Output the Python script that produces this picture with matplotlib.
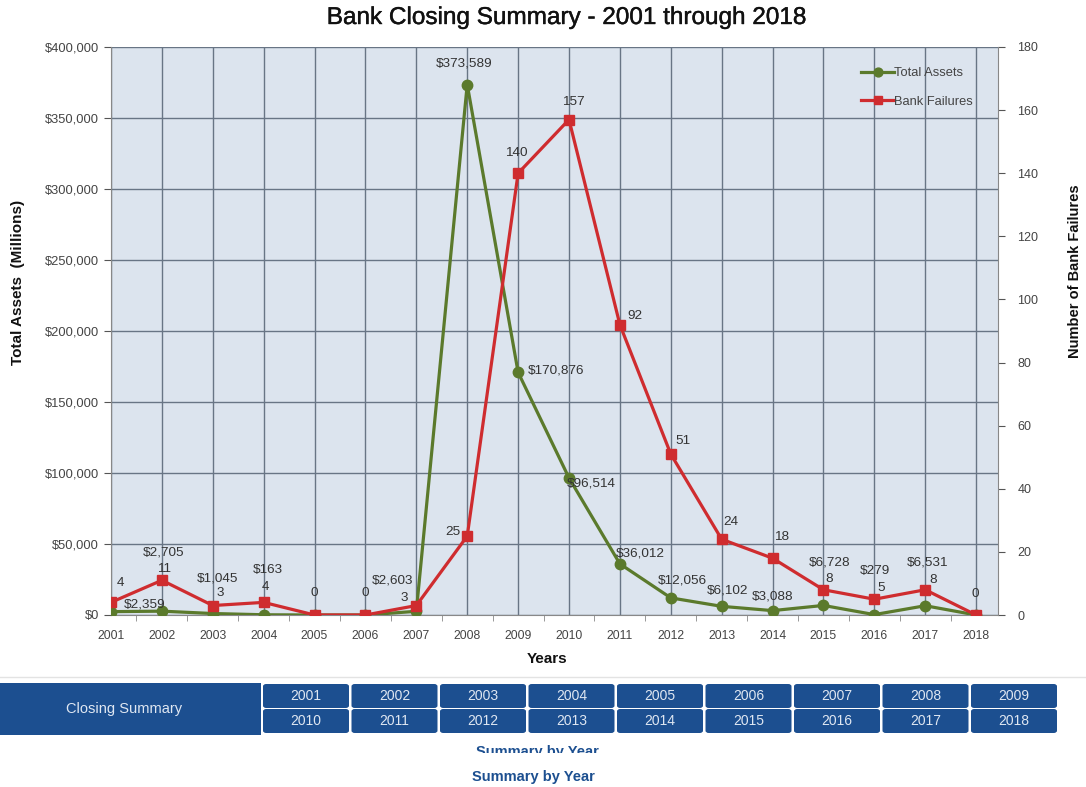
import matplotlib
matplotlib.use("Agg")
import matplotlib.pyplot as plt
import matplotlib.patheffects as pe
from matplotlib.patches import Rectangle, FancyBboxPatch
from matplotlib.transforms import Bbox, TransformedBbox
from matplotlib.ticker import FuncFormatter, MultipleLocator

plt.rcParams["font.family"] = ["Liberation Sans", "DejaVu Sans"]

years = list(range(2001, 2019))
total_assets = [2359, 2705, 1045, 163, 0, 0, 2603, 373589, 170876, 96514,
                36012, 12056, 6102, 3088, 6728, 279, 6531, 0]
bank_failures = [4, 11, 3, 4, 0, 0, 3, 25, 140, 157, 92, 51, 24, 18, 8, 5, 8, 0]
nav_years_top = [str(y) for y in range(2001, 2010)]
nav_years_bottom = [str(y) for y in range(2010, 2019)]

W, H = 1086, 787
GREEN = "#5b7a2c"
RED = "#cf2c2f"
GRID = "#687585"
LABEL = "#333333"
NAVY = "#1c4f90"

fig = plt.figure(figsize=(W / 100, H / 100), dpi=100)
fig.patch.set_facecolor("white")


def px(x, y):
    # pixel coords (origin top-left) -> figure fraction
    return x / W, 1 - y / H


left, right, top, bottom = 111, 998, 47, 615
ax = fig.add_axes([left / W, 1 - bottom / H, (right - left) / W, (bottom - top) / H])
ax.set_facecolor("#dce4ee")
ax2 = ax.twinx()

ax.set_xlim(2001, 2018.43)
ax.set_ylim(0, 400000)
ax2.set_ylim(0, 180)

ax.set_xticks(years)
ax.set_xticklabels([str(y) for y in years])
ax.set_xticks([y + 0.5 for y in years[:-1]], minor=True)
ax.yaxis.set_major_locator(MultipleLocator(50000))
ax.yaxis.set_major_formatter(FuncFormatter(lambda v, p: f"${v:,.0f}"))
ax2.yaxis.set_major_locator(MultipleLocator(20))

ax.grid(True, which="major", color=GRID, linewidth=1.0)
ax.set_axisbelow(True)
for a in (ax, ax2):
    for s in a.spines.values():
        s.set_visible(False)
ax.spines["left"].set_visible(True)
ax.spines["left"].set_color("#888888")
ax.spines["bottom"].set_visible(True)
ax.spines["bottom"].set_color("#888888")
ax2.spines["right"].set_visible(True)
ax2.spines["right"].set_color("#888888")

ax.tick_params(axis="y", labelsize=9.3, colors="#555555", length=5, labelcolor="#444444")
ax.tick_params(axis="x", which="major", labelsize=8.7, length=0, pad=11, labelcolor="#444444")
ax.tick_params(axis="x", which="minor", length=4, color="#888888")
ax2.tick_params(axis="y", labelsize=9, length=5, colors="#555555", labelcolor="#444444", pad=9)

ln1, = ax.plot(years, total_assets, color=GREEN, linewidth=2.3, marker="o",
               markersize=7.5, label="Total Assets", zorder=3)
ln2, = ax2.plot(years, bank_failures, color=RED, linewidth=2.3, marker="s",
                markersize=7.5, label="Bank Failures", zorder=3)

# label offsets in pixels relative to each point
asset_offsets = [(34, 7), (2, 59), (5, 35), (4, 45), None, None, (-24, 31),
                 (-3, 21), (38, 2), (22, -6), (20, 10), (12, 17), (6, 16),
                 (0, 14), (6, 43), (1, 44), (2, 43), None]
failure_offsets = [(9, 19), (2, 11), (8, 13), (2, 15), (0, 22), (0, 22),
                   (-12, 8), (-14, 4), (-2, 20), (4, 18), (15, 9), (12, 13),
                   (9, 17), (9, 21), (6, 11), (7, 11), (8, 10), (-1, 21)]

for yr, v, off in zip(years, total_assets, asset_offsets):
    if off is None:
        continue
    ax.annotate(f"${v:,}", (yr, v), xytext=off, textcoords="offset pixels",
                ha="center", va="center", fontsize=9.7, color=LABEL, zorder=5)
for yr, v, off in zip(years, bank_failures, failure_offsets):
    ax2.annotate(f"{v}", (yr, v), xytext=off, textcoords="offset pixels",
                 ha="center", va="center", fontsize=9.7, color=LABEL, zorder=5)

leg = ax2.legend(handles=[ln1, ln2], loc="upper right", bbox_to_anchor=(0.985, 0.985),
                 frameon=False, fontsize=9.3, handlelength=2.6, handletextpad=0.0,
                 labelspacing=1.3, markerscale=0.85)
for t in leg.get_texts():
    t.set_color("#444444")

title = fig.text(*px(566, 18), "Bank Closing Summary - 2001 through 2018", ha="center",
                 va="center", fontsize=17.5, color="#111111")
title.set_path_effects([pe.withStroke(linewidth=0.3, foreground="#111111")])
fig.text(*px(18, 282), "Total Assets  (Millions)", rotation=90, ha="center",
         va="center", fontsize=11, fontweight="bold", color="#111111")
fig.text(*px(1075, 271), "Number of Bank Failures", rotation=90, ha="center",
         va="center", fontsize=10.5, fontweight="bold", color="#111111")
fig.text(*px(547, 659), "Years", ha="center", va="center", fontsize=11,
         fontweight="bold", color="#111111")

# navigation bar below the chart
fig.add_artist(plt.Line2D([0, 1], [1 - 677 / H] * 2, color="#e3e3e3", linewidth=1))
x0, y0 = px(0, 735)
fig.add_artist(Rectangle((x0, y0), 261 / W, 52 / H, transform=fig.transFigure,
                         facecolor=NAVY, edgecolor="none"))
fig.text(*px(124, 709), "Closing Summary", ha="center", va="center",
         fontsize=10.5, color="#dfe7f2")

pitch = 88.5
for row, (labels, ytop) in enumerate([(nav_years_top, 684), (nav_years_bottom, 709)]):
    for i, lab in enumerate(labels):
        cx = 306 + i * pitch
        bx, by = px(cx - 43, ytop + 24)
        fig.add_artist(FancyBboxPatch((bx, by), 86 / W, 24 / H,
                                      boxstyle="round,pad=0,rounding_size=0.003",
                                      transform=fig.transFigure,
                                      facecolor=NAVY, edgecolor="none"))
        fig.text(*px(cx, ytop + 12), lab, ha="center", va="center",
                 fontsize=10, color="#dfe7f2")

# partially hidden caption, clipped at its middle
cap = fig.text(*px(537, 752), "Summary by Year", ha="center", va="center",
               fontsize=10.5, fontweight="bold", color=NAVY)
cap.set_clip_box(TransformedBbox(Bbox([[0, 1 - 753 / H], [1, 1]]), fig.transFigure))
cap.set_clip_on(True)
fig.text(*px(533, 777), "Summary by Year", ha="center", va="center",
         fontsize=10.5, fontweight="bold", color=NAVY)

fig.savefig("out.png", dpi=100)
